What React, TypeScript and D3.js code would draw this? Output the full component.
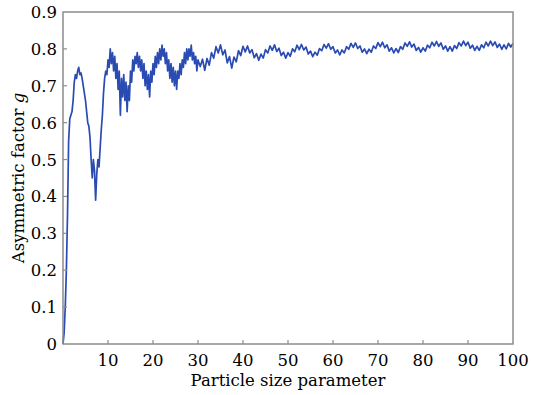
import React from "react";
import * as d3 from "d3";

// Particle size parameter sampled every 0.25 from 0 to 30
const earlyStep = 0.25;
const earlyG = [
  0, 0.03, 0.1, 0.2, 0.35, 0.55, 0.61, 0.62, 0.63, 0.66, 0.71, 0.73, 0.72, 0.74, 0.75, 0.73,
  0.735, 0.72, 0.7, 0.68, 0.66, 0.63, 0.6, 0.59, 0.56, 0.5, 0.45, 0.5, 0.47, 0.39, 0.46, 0.5,
  0.48, 0.53, 0.58, 0.62, 0.68, 0.72, 0.74, 0.73, 0.77, 0.75, 0.8, 0.76, 0.79, 0.74, 0.78, 0.72,
  0.76, 0.69, 0.74, 0.62, 0.72, 0.67, 0.73, 0.66, 0.71, 0.63, 0.7, 0.66, 0.74, 0.71, 0.77, 0.74,
  0.78, 0.76, 0.79, 0.75, 0.78, 0.74, 0.77, 0.72, 0.76, 0.7, 0.74, 0.69, 0.73, 0.67, 0.74, 0.71,
  0.76, 0.73, 0.78, 0.75, 0.79, 0.76, 0.8, 0.77, 0.81, 0.78, 0.8, 0.76, 0.79, 0.74, 0.77, 0.72,
  0.76, 0.71, 0.75, 0.7, 0.74, 0.69, 0.74, 0.72, 0.76, 0.73, 0.77, 0.75, 0.79, 0.76, 0.8, 0.77,
  0.8, 0.78, 0.81, 0.77, 0.79, 0.76, 0.78, 0.74, 0.77,
];

// Particle size parameter sampled every 0.5 from 30.5 to 100
const lateStart = 30.5;
const lateStep = 0.5;
const lateG = [
  0.752, 0.772, 0.742, 0.774, 0.756, 0.79, 0.775, 0.806, 0.789, 0.811, 0.784, 0.797, 0.762, 0.779,
  0.748, 0.778, 0.765, 0.795, 0.782, 0.807, 0.792, 0.808, 0.789, 0.798, 0.776, 0.787, 0.769, 0.786,
  0.775, 0.798, 0.789, 0.808, 0.796, 0.811, 0.793, 0.802, 0.782, 0.791, 0.775, 0.79, 0.78, 0.8,
  0.792, 0.81, 0.798, 0.812, 0.797, 0.805, 0.786, 0.794, 0.779, 0.791, 0.783, 0.801, 0.795, 0.812,
  0.802, 0.814, 0.799, 0.806, 0.789, 0.797, 0.784, 0.797, 0.789, 0.806, 0.799, 0.815, 0.804, 0.816,
  0.801, 0.808, 0.791, 0.8, 0.787, 0.799, 0.791, 0.808, 0.801, 0.817, 0.806, 0.818, 0.803, 0.811,
  0.794, 0.803, 0.789, 0.801, 0.79, 0.806, 0.799, 0.816, 0.807, 0.819, 0.805, 0.813, 0.796, 0.804,
  0.791, 0.803, 0.794, 0.81, 0.803, 0.818, 0.808, 0.82, 0.807, 0.816, 0.799, 0.808, 0.794, 0.806,
  0.794, 0.809, 0.801, 0.817, 0.808, 0.821, 0.809, 0.818, 0.802, 0.81, 0.796, 0.807, 0.796, 0.811,
  0.803, 0.818, 0.808, 0.821, 0.809, 0.819, 0.804, 0.813, 0.799, 0.811, 0.8, 0.815, 0.805, 0.815,
];

const xTicks = [10, 20, 30, 40, 50, 60, 70, 80, 90, 100];
const yTicks = [0, 0.1, 0.2, 0.3, 0.4, 0.5, 0.6, 0.7, 0.8, 0.9];
const xTitle = "Particle size parameter";
const yTitle = "Asymmetric factor ";
const yTitleItalic = "g";

const W = 533;
const H = 395;
const left = 63;
const right = 513;
const top = 12;
const bottom = 344;

export default function App() {
  const x = d3.scaleLinear().domain([0, 100]).range([left, right]);
  const y = d3.scaleLinear().domain([0, 0.9]).range([bottom, top]);

  const points: [number, number][] = [
    ...earlyG.map((g, i) => [i * earlyStep, g] as [number, number]),
    ...lateG.map((g, i) => [lateStart + i * lateStep, g] as [number, number]),
  ];
  const line = d3
    .line<[number, number]>()
    .x((d) => x(d[0]))
    .y((d) => y(d[1]));

  const font = "'DejaVu Serif', serif";
  const axisColor = "#8c8c8c";

  return (
    <svg
      width={W}
      height={H}
      style={{ position: "absolute", left: 0, top: 0, background: "#fff" }}
      fontFamily={font}
    >
      <rect x={0} y={0} width={W} height={H} fill="#fff" />
      <path d={line(points) || ""} fill="none" stroke="#2a4bb2" strokeWidth={1.7} strokeLinejoin="round" />
      <rect
        x={left}
        y={top}
        width={right - left}
        height={bottom - top}
        fill="none"
        stroke={axisColor}
        strokeWidth={1.5}
      />
      {xTicks.map((t) => (
        <g key={"x" + t}>
          {t < 100 && (
            <line x1={x(t)} x2={x(t)} y1={bottom} y2={bottom - 4} stroke={axisColor} strokeWidth={1.2} />
          )}
          <text x={x(t)} y={bottom + 22} textAnchor="middle" fontSize={16.5} fill="#000">
            {t}
          </text>
        </g>
      ))}
      {yTicks.map((t) => (
        <g key={"y" + t}>
          {t > 0 && t < 0.9 && (
            <line x1={left} x2={left + 4} y1={y(t)} y2={y(t)} stroke={axisColor} strokeWidth={1.2} />
          )}
          <text x={left - 6} y={y(t) + 6} textAnchor="end" fontSize={16.5} fill="#000">
            {t === 0 ? "0" : d3.format(".1f")(t)}
          </text>
        </g>
      ))}
      <text x={(left + right) / 2} y={386} textAnchor="middle" fontSize={16.5} fill="#000">
        {xTitle}
      </text>
      <text
        transform={`translate(24, ${(top + bottom) / 2}) rotate(-90)`}
        textAnchor="middle"
        fontSize={16.5}
        fill="#000"
      >
        {yTitle}
        <tspan fontStyle="italic">{yTitleItalic}</tspan>
      </text>
    </svg>
  );
}
